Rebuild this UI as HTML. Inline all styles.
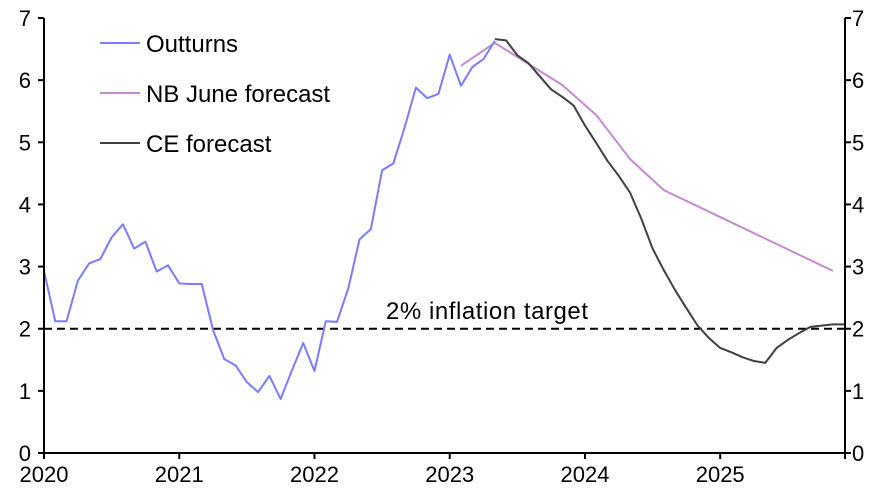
<!DOCTYPE html>
<html><head><meta charset="utf-8"><style>
body{margin:0;background:#fff}
svg{display:block;font-family:"Liberation Sans",Arial,sans-serif}
</style></head><body>
<svg id="chart" width="886" height="496"></svg>
<script>
const outturns=[2.93,2.12,2.12,2.77,3.05,3.12,3.47,3.68,3.29,3.4,2.92,3.02,2.73,2.72,2.72,1.98,1.51,1.41,1.14,0.98,1.24,0.87,1.33,1.77,1.32,2.12,2.11,2.65,3.44,3.6,4.55,4.66,5.24,5.88,5.71,5.78,6.41,5.91,6.21,6.34,6.63];
const nbMonths=[37,40,43,46,49,52,55,58,61,64,67,70];
const nbValues=[6.23,6.6,6.26,5.92,5.44,4.73,4.23,3.97,3.71,3.45,3.19,2.93];
const ceStart=40;
const ceValues=[6.66,6.64,6.4,6.27,6.06,5.85,5.73,5.59,5.27,4.99,4.7,4.46,4.19,3.77,3.29,2.94,2.62,2.33,2.05,1.85,1.69,1.62,1.54,1.48,1.45,1.69,1.82,1.93,2.03,2.05,2.07,2.07];
const yTicks=[0,1,2,3,4,5,6,7];
const xYears=['2020','2021','2022','2023','2024','2025'];
const target=2;

const svg=document.getElementById('chart');
const NS='http://www.w3.org/2000/svg';
const L=44,R=845,T=18,B=453;
const x=m=>L+m*11.27;
const y=v=>B-(v/7)*(B-T);
function mk(tag,attrs,parent){const e=document.createElementNS(NS,tag);for(const k in attrs)e.setAttribute(k,attrs[k]);(parent||svg).appendChild(e);return e;}

const tl=mk('line',{x1:L,x2:R,y1:y(target),y2:y(target),stroke:'#000','stroke-width':2,'stroke-dasharray':'8,5'});


const tt=mk('text',{x:487,y:319,'font-size':24,'text-anchor':'middle','textLength':202});tt.textContent='2% inflation target';



function line(pts,color,name){
  const p=mk('polyline',{points:pts.map(a=>a.join(',')).join(' '),fill:'none',stroke:color,'stroke-width':2,'stroke-linejoin':'round'});
  
  
}
line(nbValues.map((v,i)=>[x(nbMonths[i]),y(v)]),'#c58ad0','nb-june-forecast-line');
line(ceValues.map((v,i)=>[x(ceStart+i),y(v)]),'#404040','ce-forecast-line');
line(outturns.map((v,i)=>[x(i),y(v)]),'#7b7bff','outturns-line');

const ax=[[L,T,L,B],[R,T,R,B],[L,B,R,B]];
const axn=['left-y-axis','right-y-axis','x-axis'];
ax.forEach((a,i)=>{const e=mk('line',{x1:a[0],y1:a[1],x2:a[2],y2:a[3],stroke:'#000','stroke-width':2});

});
yTicks.forEach(v=>{
  mk('line',{x1:L-6,x2:L,y1:y(v),y2:y(v),stroke:'#000','stroke-width':2});
  mk('line',{x1:R,x2:R+6,y1:y(v),y2:y(v),stroke:'#000','stroke-width':2});
  const a=mk('text',{x:L-13,y:y(v)+8,'font-size':22,'text-anchor':'end'});a.textContent=v;
  
  
  const b=mk('text',{x:R+7,y:y(v)+8,'font-size':22,'text-anchor':'start'});b.textContent=v;
  
  
});
xYears.forEach((s,i)=>{
  mk('line',{x1:x(i*12),x2:x(i*12),y1:B,y2:B+6,stroke:'#000','stroke-width':2});
  const t=mk('text',{x:x(i*12),y:482,'font-size':22,'text-anchor':'middle'});t.textContent=s;
  
  
});
mk('line',{x1:R,x2:R,y1:B,y2:B+6,stroke:'#000','stroke-width':2});

const leg=[['Outturns','#7b7bff'],['NB June forecast','#c58ad0'],['CE forecast','#404040']];
leg.forEach((l,i)=>{
  const g=mk('g',{});
  
  
  mk('line',{x1:100,x2:140,y1:43+i*50,y2:43+i*50,stroke:l[1],'stroke-width':2},g);
  const t=mk('text',{x:146,y:52+i*50,'font-size':24},g);t.textContent=l[0];
});
</script>
</body></html>
